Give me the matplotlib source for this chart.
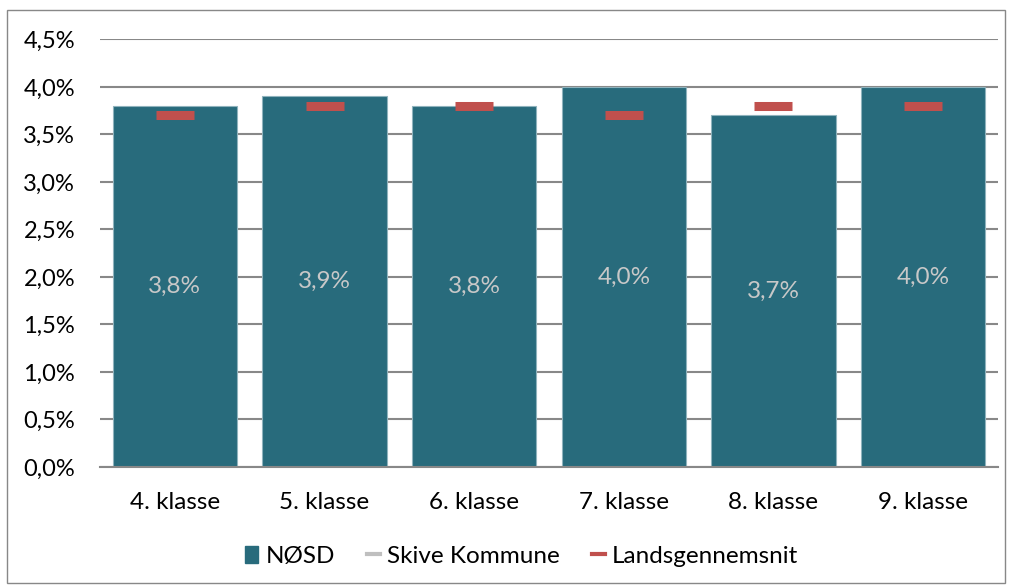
import numpy as np
import matplotlib.pyplot as plt
from matplotlib.patches import Rectangle
from matplotlib.lines import Line2D

plt.rcParams['font.family'] = ['Lato', 'DejaVu Sans']

# data
klasser = ['4. klasse', '5. klasse', '6. klasse', '7. klasse', '8. klasse', '9. klasse']
nosd = [3.8, 3.9, 3.8, 4.0, 3.7, 4.0]
skive = [np.nan] * 6
lands = [3.7, 3.8, 3.8, 3.7, 3.8, 3.8]
yticks = [0, 0.5, 1.0, 1.5, 2.0, 2.5, 3.0, 3.5, 4.0, 4.5]

bar_col = '#286b7c'
red = '#c0504d'

fig = plt.figure(figsize=(10.11, 5.88), dpi=100)
ax = fig.add_axes([0.099, 0.206, 0.888, 0.727])

x = np.arange(len(klasser))
ax.bar(x, nosd, width=0.83, color=bar_col, edgecolor='#8fb3bd', linewidth=0.8, zorder=2)
ax.plot(x, skive, ls='none', marker='_', ms=14, mew=4, color='#bfbfbf', zorder=3)
ax.plot(x, lands, ls='none', marker='_', ms=27, mew=6.5, color=red, zorder=3)

# labels mid-bar
for xi, v in zip(x, nosd):
    ax.text(xi, v / 2, f'{v:.1f}%'.replace('.', ','), ha='center', va='center',
            color='#c8c8c8', fontsize=17.5, zorder=4)

ax.set_xlim(-0.5, 5.5)
ax.set_ylim(0, 4.5)
ax.set_yticks(yticks)
ax.set_yticklabels([f'{t:.1f}%'.replace('.', ',') for t in yticks], fontsize=17)
ax.set_xticks(x)
ax.set_xticklabels(klasser, fontsize=17.5)
ax.grid(axis='y', color='#888888', lw=1.5, zorder=0)
for s in ['top', 'right', 'left']:
    ax.spines[s].set_visible(False)
ax.spines['bottom'].set_color('#888888')
ax.spines['bottom'].set_linewidth(1.5)
ax.tick_params(axis='y', length=0, pad=18)
ax.tick_params(axis='x', length=0, pad=18)

handles = [Rectangle((0, 0), 1, 1, color=bar_col),
           Line2D([], [], color='#bfbfbf', lw=3),
           Line2D([], [], color=red, lw=3)]
fig.legend(handles, ['NØSD', 'Skive Kommune', 'Landsgennemsnit'], loc='center',
           bbox_to_anchor=(0.516, 0.054), ncol=3, frameon=False, fontsize=17.5,
           handlelength=0.55, handletextpad=0.3, columnspacing=1.3)

fig.patches.append(Rectangle((0.007, 0.008), 0.987, 0.975, transform=fig.transFigure,
                             fill=False, edgecolor='#888888', lw=1))

fig.savefig('out.png', dpi=100)
